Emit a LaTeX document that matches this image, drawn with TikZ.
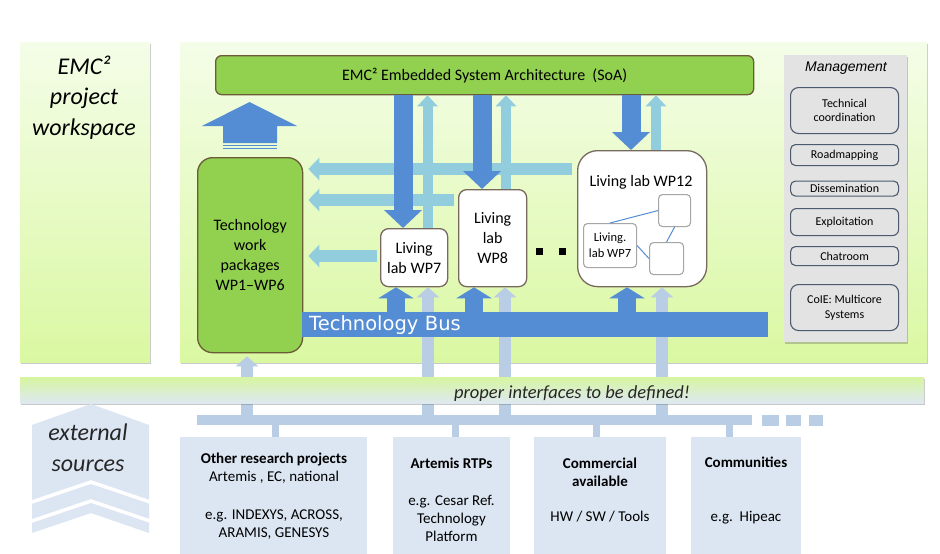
\documentclass[tikz,border=0pt]{standalone}
\usepackage{fontspec}
\setmainfont{Carlito}
\newfontfamily\arialfont{Liberation Sans}
\newfontfamily\verdfont{DejaVu Sans}
\usetikzlibrary{arrows.meta,shadows}
\definecolor{dblue}{RGB}{84,141,212}
\definecolor{cblue}{RGB}{146,205,221}
\definecolor{eblue}{RGB}{185,205,229}
\definecolor{ebox}{RGB}{220,230,242}
\definecolor{sgreen}{RGB}{146,208,80}
\definecolor{gborder}{RGB}{105,92,55}
\definecolor{lborder}{RGB}{120,105,95}
\definecolor{mgray}{RGB}{228,227,227}
\definecolor{mborder}{RGB}{75,90,110}
\definecolor{ptop}{RGB}{244,253,232}
\definecolor{pbot}{RGB}{218,248,162}
\definecolor{iftop}{RGB}{214,245,160}
\definecolor{ifbot}{RGB}{222,232,242}
\tikzset{
  nw/.style={anchor=north west, inner sep=0pt},
  panel/.style={nw, top color=ptop, bottom color=pbot,
    drop shadow={shadow xshift=0.5pt, shadow yshift=-2pt, opacity=.35, fill=black!60}},
  gbox/.style={nw, fill=sgreen, draw=gborder, line width=1.3pt},
  labbox/.style={nw, fill=white, draw=lborder, line width=1.3pt, rounded corners=8pt, align=center,
    font=\fontsize{16}{20}\selectfont},
  sqbox/.style={nw, fill=white, draw=black!35, line width=1.1pt, rounded corners=4pt},
  mbox/.style={nw, fill=mgray, draw=mborder, line width=1.1pt, rounded corners=5pt,
    minimum width=108pt, align=center, font=\fontsize{12}{13.5}\selectfont},
  ebx/.style={nw, fill=ebox},
  darr/.style={draw=dblue, line width=19pt, -{Triangle[width=37pt,length=18pt]}},
  barr/.style={draw=dblue, line width=18pt, -{Triangle[width=35pt,length=11pt]}},
  carr/.style={draw=cblue, line width=12pt, -{Triangle[width=22pt,length=11pt]}},
  carrv/.style={draw=cblue, line width=10pt, -{Triangle[width=20pt,length=11pt]}},
  earr/.style={draw=eblue, line width=12pt, -{Triangle[width=22pt,length=10pt]}},
  stub/.style={draw=eblue, line width=7pt},
  txt/.style={align=center, inner sep=0pt},
}
\begin{document}
\begin{tikzpicture}[x=1pt,y=-1pt]
\useasboundingbox (0,0) rectangle (940,554);
\fill[white] (0,0) rectangle (940,554);

% panels
\node[panel, minimum width=130pt, minimum height=320pt] (lp) at (20,42) {};
\node[panel, minimum width=747pt, minimum height=320pt] (mp) at (180,42) {};
\node[txt, font=\itshape\fontsize{24}{30.5}\selectfont] (lpt) at (84,97.5) {EMC²\\project\\workspace};

% management
\node[nw, fill=mgray, minimum width=123pt, minimum height=287pt,
  drop shadow={shadow xshift=1pt, shadow yshift=-2pt, opacity=.35, fill=black!60}] (mg) at (784,55) {};
\node[txt, font=\arialfont\itshape\fontsize{14}{16}\selectfont] (mgt) at (846,68) {Management};
\node[mbox, rounded corners=8pt, minimum height=46pt] (m1) at (790,87) {Technical\\coordination};
\node[mbox, minimum height=21pt] (m2) at (790,144) {Roadmapping};
\node[mbox, minimum height=15pt] (m3) at (790,180.5) {Dissemination};
\node[mbox, rounded corners=6pt, minimum height=27pt] (m4) at (790,208) {Exploitation};
\node[mbox, minimum height=19pt] (m5) at (790,246) {Chatroom};
\node[mbox, rounded corners=8pt, minimum height=46pt, font=\fontsize{12}{15}\selectfont] (m6) at (790,284) {CoIE: Multicore\\Systems};

% SoA
\node[gbox, rounded corners=6pt, minimum width=538pt, minimum height=39pt,
  font=\fontsize{16}{20}\selectfont] (soa) at (215,55) {EMC² Embedded System Architecture\ \ (SoA)};

% big up arrow
\fill[dblue] (202,126) -- (249.5,102) -- (297,126) -- (277,126) -- (277,143) -- (223,143) -- (223,126) -- cycle;
\fill[dblue] (223,144.6) rectangle (277,146.1);
\fill[dblue] (223,147.6) rectangle (277,149.1);

% boxes
\node[gbox, rounded corners=15pt, minimum width=105pt, minimum height=195pt, align=center,
  font=\fontsize{16}{20}\selectfont] (techwp) at (197,157) {Technology\\work\\packages\\WP1--WP6};
\node[labbox, minimum width=67pt, minimum height=58pt] (wp7) at (380,228) {Living\\lab WP7};
\node[labbox, minimum width=68pt, minimum height=97pt] (wp8) at (458,189) {Living\\lab\\WP8};
\node[labbox, rounded corners=20pt, minimum width=129pt, minimum height=136pt] (wp12) at (577,150) {};
\node[txt, font=\fontsize{16}{20}\selectfont] (wp12t) at (641,182) {Living lab WP12};
\node[sqbox, minimum width=53pt, minimum height=44pt, align=center,
  font=\fontsize{12.5}{16}\selectfont] (in7) at (583,223) {Living.\\lab WP7};
\node[sqbox, minimum width=32pt, minimum height=32pt] (sq1) at (658,194) {};
\node[sqbox, minimum width=34pt, minimum height=32pt] (sq2) at (649,242) {};
\draw[dblue, line width=1pt] (in7.north) -- (sq1.west);
\draw[dblue, line width=1pt] (sq1.south) -- (sq2.north);
\draw[dblue, line width=1pt] (in7.east) -- (sq2.west);
\node[fill=black, minimum size=7pt, inner sep=0pt] (dot1) at (539,251) {};
\node[fill=black, minimum size=7pt, inner sep=0pt] (dot2) at (562,251) {};

% horizontal arrows to technology WPs
\coordinate (h1) at (0,169);
\coordinate (h2) at (0,200);
\coordinate (h3) at (0,256);
\draw[carr, shorten <=5pt, shorten >=5pt] (wp12.west |- h1) -- (techwp.east |- h1);
\draw[carr, shorten <=4pt, shorten >=5pt] (wp8.west |- h2) -- (techwp.east |- h2);
\draw[carr, shorten <=3pt, shorten >=5pt] (wp7.west |- h3) -- (techwp.east |- h3);

% vertical arrows SoA <-> labs
\coordinate (x7d) at (403,0);
\coordinate (x7u) at (427.5,0);
\coordinate (x8d) at (482,0);
\coordinate (x8u) at (506,0);
\coordinate (x12d) at (631,0);
\coordinate (x12u) at (656,0);
\draw[carrv] (wp7.north -| x7u) -- (soa.south -| x7u);
\draw[carrv] (wp8.north -| x8u) -- (soa.south -| x8u);
\draw[carrv] (wp12.north -| x12u) -- (soa.south -| x12u);
\draw[darr] (soa.south -| x7d) -- (wp7.north -| x7d);
\draw[darr] (soa.south -| x8d) -- (wp8.north -| x8d);
\draw[darr] (soa.south -| x12d) -- (wp12.north -| x12d);

% external bar and arrows up
\node[nw, fill=eblue, minimum width=555pt, minimum height=10pt] (extbar) at (197,415) {};
\node[nw, fill=eblue, minimum width=17pt, minimum height=11pt] (dash1) at (762,414.5) {};
\node[nw, fill=eblue, minimum width=15pt, minimum height=11pt] (dash2) at (786,414.5) {};
\node[nw, fill=eblue, minimum width=14pt, minimum height=11pt] (dash3) at (809,414.5) {};
\coordinate (xe0) at (247,0);
\coordinate (xe7) at (428,0);
\coordinate (xe8) at (505,0);
\coordinate (xe12) at (662,0);
\draw[earr, shorten >=3pt] (extbar.north -| xe0) -- (techwp.south -| xe0);
\draw[earr] (extbar.north -| xe7) -- (wp7.south -| xe7);
\draw[earr] (extbar.north -| xe8) -- (wp8.south -| xe8);
\draw[earr] (extbar.north -| xe12) -- (wp12.south -| xe12);

% technology bus
\node[nw, fill=dblue, minimum width=466pt, minimum height=25pt, text width=452pt, align=left,
  text=white, font=\verdfont\fontsize{19.5}{20}\selectfont] (bus) at (302,312) {Technology Bus};
\coordinate (xb7) at (396,0);
\coordinate (xb8) at (474,0);
\coordinate (xb12) at (627,0);
\draw[barr] (bus.north -| xb7) -- (wp7.south -| xb7);
\draw[barr] (bus.north -| xb8) -- (wp8.south -| xb8);
\draw[barr] (bus.north -| xb12) -- (wp12.south -| xb12);

% interfaces bar
\node[nw, top color=iftop, bottom color=ifbot, minimum width=904pt, minimum height=26pt,
  drop shadow={shadow xshift=0.5pt, shadow yshift=-2pt, opacity=.35, fill=black!60}] (ifbar) at (20,377) {};
\node[txt, font=\itshape\fontsize{18.5}{20}\selectfont, text=black!85] (ift) at (572,394) {proper interfaces to be defined!};

% external sources chevron
\fill[ebox] (32,425) -- (91,404) -- (149,425) -- (149,533) -- (91,513) -- (32,533) -- cycle;
\draw[white, line width=3.5pt] (26,504) -- (91,482) -- (155,503.7);
\draw[white, line width=3.5pt] (26,523) -- (91,501) -- (155,522.7);
\node[txt, font=\itshape\fontsize{24}{31}\selectfont, text=black!85] (extt) at (88,447.5) {external\\sources};

% external source boxes
\node[ebx, minimum width=187pt, minimum height=117pt] (b1) at (180,437) {};
\node[ebx, minimum width=117pt, minimum height=117pt] (b2) at (393,437) {};
\node[ebx, minimum width=132pt, minimum height=117pt] (b3) at (534,437) {};
\node[ebx, minimum width=110pt, minimum height=117pt] (b4) at (691,437) {};
\coordinate (s1) at (275,0);
\coordinate (s2) at (455,0);
\coordinate (s3) at (596,0);
\coordinate (s4) at (729,0);
\draw[stub] (extbar.south -| s1) -- (b1.north -| s1);
\draw[stub] (extbar.south -| s2) -- (b2.north -| s2);
\draw[stub] (extbar.south -| s3) -- (b3.north -| s3);
\draw[stub] (extbar.south -| s4) -- (b4.north -| s4);
\node[txt, font=\fontsize{15}{18}\selectfont] (b1t) at (274,496.5) {\textbf{Other research projects}\\Artemis , EC, national\\[20pt]e.g. INDEXYS, ACROSS,\\ARAMIS, GENESYS};
\node[txt, font=\fontsize{15}{18}\selectfont] (b2t) at (451.5,499.5) {\textbf{Artemis RTPs}\\[19pt]e.g. Cesar Ref.\\Technology\\Platform};
\node[txt, font=\fontsize{15}{18}\selectfont] (b3t) at (600,490.5) {\textbf{Commercial}\\\textbf{available}\\[17pt]HW / SW / Tools};
\node[txt, font=\fontsize{15}{18}\selectfont] (b4t) at (746,490.5) {\textbf{Communities}\\[36pt]e.g.\ \ Hipeac};
\end{tikzpicture}
\end{document}
